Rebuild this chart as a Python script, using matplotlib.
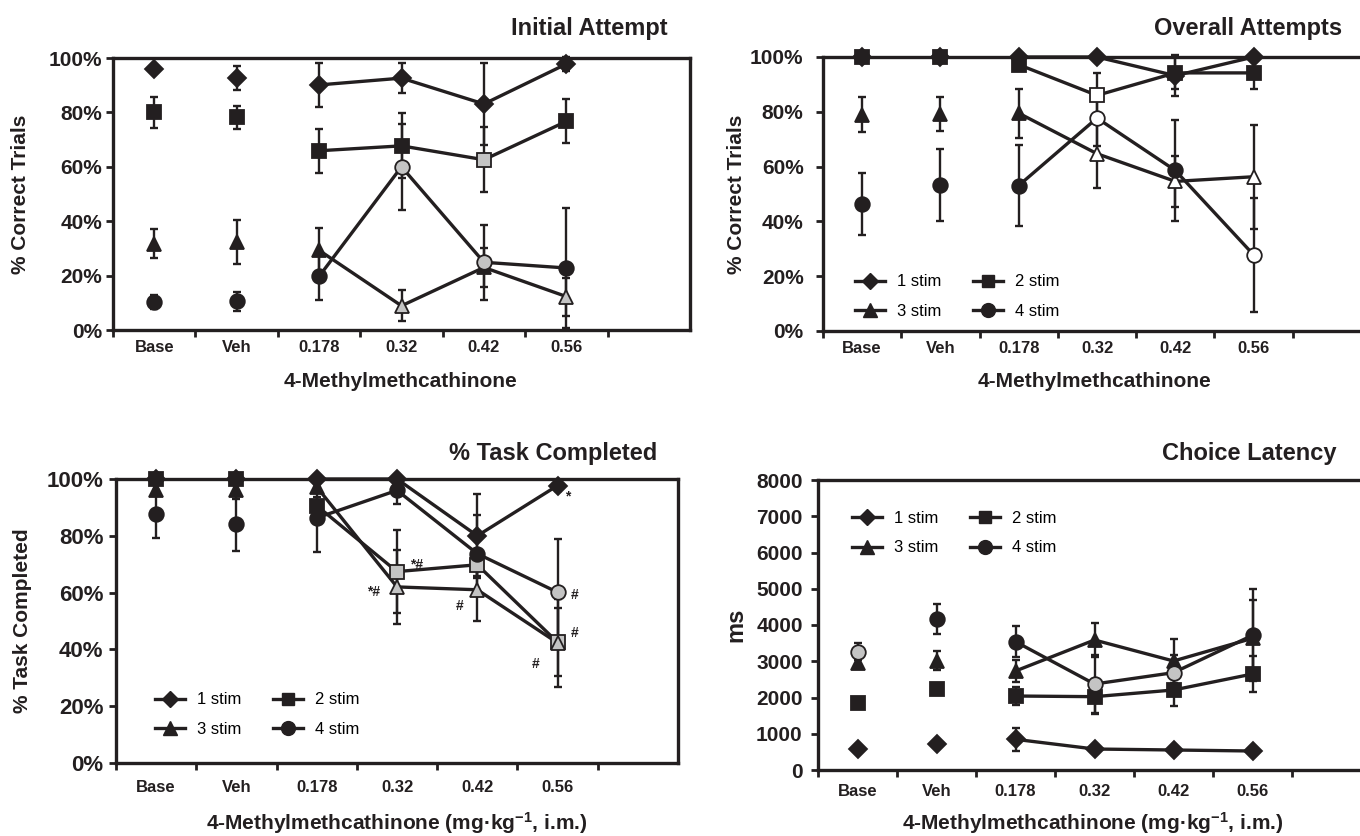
import matplotlib
matplotlib.use("Agg")
import matplotlib.pyplot as plt
from matplotlib.lines import Line2D
import numpy as np

plt.rcParams['font.family'] = ['Liberation Sans', 'DejaVu Sans']
plt.rcParams['mathtext.fontset'] = 'custom'
plt.rcParams['mathtext.rm'] = 'Liberation Sans:bold'
plt.rcParams['mathtext.bf'] = 'Liberation Sans:bold'
plt.rcParams['mathtext.default'] = 'bf'

# ---------------- data ----------------
categories = ["Base", "Veh", "0.178", "0.32", "0.42", "0.56"]
series_labels = ["1 stim", "2 stim", "3 stim", "4 stim"]

# Initial Attempt (% correct)
init_1 = [96.1, 92.7, 90.1, 92.6, 83.1, 97.8]
init_1_err = [1.5, 4.5, 8.1, 5.6, 15.2, 2.5]
init_2 = [80.0, 78.2, 65.9, 67.7, 62.6, 76.7]
init_2_err = [5.7, 4.2, 8.0, 12.0, 12.0, 8.1]
init_3 = [31.8, 32.3, 29.3, 8.9, 23.0, 12.3]
init_3_err = [5.4, 8.1, 8.3, 5.7, 7.1, 7.0]
init_4 = [10.2, 10.5, 19.7, 60.0, 24.9, 22.8]
init_4_err = [2.5, 3.4, 8.6, 15.7, 13.8, 22.0]

# Overall Attempts (% correct)
over_1 = [100, 100, 100, 100, 93.2, 100]
over_1_err = [0, 0, 0, 0, 7.5, 0]
over_2 = [100, 100, 97.2, 86.0, 94.2, 94.2]
over_2_err = [0, 0, 0, 8.2, 6.0, 6.0]
over_3 = [79.0, 79.3, 79.5, 64.7, 54.6, 56.3]
over_3_err = [6.4, 6.2, 9.0, 12.6, 9.2, 19.0]
over_4 = [46.3, 53.3, 53.1, 77.7, 58.6, 27.8]
over_4_err = [11.4, 13.2, 14.7, 10.0, 18.5, 20.8]

# % Task Completed
task_1 = [100, 100, 100, 100, 80.0, 97.7]
task_1_err = [0, 0, 0, 0, 14.7, 2.0]
task_2 = [100, 100, 90.6, 67.4, 69.8, 42.5]
task_2_err = [0, 0, 3.0, 14.5, 4.0, 12.0]
task_3 = [96.2, 96.0, 97.2, 62.0, 61.0, 42.3]
task_3_err = [2.0, 3.0, 2.0, 13.0, 11.0, 15.5]
task_4 = [87.7, 84.3, 86.3, 96.0, 73.7, 60.1]
task_4_err = [8.5, 9.8, 12.0, 4.8, 13.5, 18.8]
task_notes = [(0, 5, "*"), (1, 3, "*#"), (2, 3, "*#"), (2, 4, "#"),
              (3, 5, "#"), (1, 5, "#"), (2, 5, "#")]

# Choice Latency (ms)
lat_1 = [579, 717, 846, 579, 552, 524]
lat_1_err = [0, 0, 310, 0, 0, 0]
lat_2 = [1839, 2225, 2041, 2023, 2207, 2648]
lat_2_err = [0, 100, 250, 480, 440, 490]
lat_3 = [2961, 3016, 2731, 3586, 3007, 3632]
lat_3_err = [150, 260, 300, 480, 600, 1060]
lat_4 = [3264, 4166, 3540, 2372, 2685, 3715]
lat_4_err = [230, 410, 430, 800, 500, 1270]

# ---------------- style ----------------
BLACK = '#231f20'
FILLS = {'k': BLACK, 'g': '#c4c4c4', 'w': 'white'}
markers = ['D', 's', '^', 'o']
msizes = [9, 9.5, 10.5, 10.5]

init_fill = [list('kkkkkk'), list('kkkkgk'), list('kkkgkg'), list('kkkggk')]
over_fill = [list('kkkkkk'), list('kkkwkk'), list('kkkwww'), list('kkkwkw')]
task_fill = [list('kkkkkk'), list('kkkggg'), list('kkkggg'), list('kkkkkg')]
lat_fill = [list('kkkkkk'), list('kkkkkk'), list('kkkkkk'), list('gkkggk')]

W, H = 1360, 836
fig = plt.figure(figsize=(W / 100, H / 100), dpi=100)


def px_axes(left, top, right, bottom):
    return fig.add_axes([left / W, 1 - bottom / H, (right - left) / W, (bottom - top) / H])


def draw(ax, means, errs, fills):
    x = np.arange(len(categories))
    for i in range(4):
        m = np.asarray(means[i], float)
        e = np.asarray(errs[i], float)
        k = e > 0
        ax.errorbar(x[k], m[k], yerr=e[k], fmt='none', ecolor=BLACK,
                    elinewidth=1.7, capsize=3, capthick=1.7, zorder=2, clip_on=False)
        ax.plot(x[2:], m[2:], '-', color=BLACK, lw=2.4, zorder=3, clip_on=False)
        for xi, yi, f in zip(x, m, fills[i]):
            ax.plot([xi], [yi], ls='none', marker=markers[i], ms=msizes[i],
                    mfc=FILLS[f], mec=BLACK, mew=1.3, zorder=4, clip_on=False)


def style(ax, yticks, ylabels, ylim, ypad, xpad, ysize):
    ax.set_xlim(-0.5, 6.5)
    ax.set_ylim(*ylim)
    ax.set_xticks(np.arange(-0.5, 6.0, 1.0))
    ax.set_xticklabels([])
    ax.set_xticks(np.arange(len(categories)), minor=True)
    ax.set_xticklabels(categories, minor=True, fontsize=12, fontweight='bold', color=BLACK)
    ax.tick_params(axis='x', which='minor', length=0, pad=xpad)
    ax.tick_params(axis='x', which='major', length=5, width=2, direction='out', color=BLACK)
    ax.set_yticks(yticks)
    ax.set_yticklabels(ylabels, fontsize=ysize, fontweight='bold', color=BLACK)
    ax.tick_params(axis='y', length=5, width=2, direction='out', pad=ypad, color=BLACK)
    for s in ax.spines.values():
        s.set_linewidth(2.4)
        s.set_color(BLACK)
        s.set_zorder(5)


def legend(ax, x0, ytop):
    handles = [Line2D([], [], color=BLACK, lw=2.4, marker=markers[i], ms=msizes[i] * 0.95,
                      mfc=BLACK, mec=BLACK) for i in range(4)]
    # row1 = 1 stim, 2 stim ; row2 = 3 stim, 4 stim (column-major fill)
    order = [0, 2, 1, 3]
    ax.legend([handles[i] for i in order], [series_labels[i] for i in order],
              ncol=2, frameon=False, loc='upper left',
              bbox_to_anchor=(x0 / W, 1 - ytop / H), bbox_transform=fig.transFigure,
              borderpad=0, handlelength=1.8, handletextpad=0.7, columnspacing=1.9,
              labelspacing=0.85, prop={'family': 'Liberation Sans', 'size': 12})


pct_ticks = [0, 20, 40, 60, 80, 100]
pct_labels = [f"{v}%" for v in pct_ticks]

# Panel 1: Initial Attempt
ax1 = px_axes(113, 58, 690, 330)
draw(ax1, [init_1, init_2, init_3, init_4], [init_1_err, init_2_err, init_3_err, init_4_err], init_fill)
style(ax1, pct_ticks, pct_labels, (0, 100), 3, 7, 15)

# Panel 2: Overall Attempts
ax2 = px_axes(823, 57, 1371, 331)
draw(ax2, [over_1, over_2, over_3, over_4], [over_1_err, over_2_err, over_3_err, over_4_err], over_fill)
style(ax2, pct_ticks, pct_labels, (0, 100), 9, 7, 15)
legend(ax2, 847, 266)

# Panel 3: % Task Completed
ax3 = px_axes(116, 479, 678, 763)
draw(ax3, [task_1, task_2, task_3, task_4], [task_1_err, task_2_err, task_3_err, task_4_err], task_fill)
style(ax3, pct_ticks, pct_labels, (0, 100), 4, 12, 16)
legend(ax3, 147, 684)
task_means = [task_1, task_2, task_3, task_4]
note_offsets = {(0, 5): (7, -8), (1, 3): (14, 5), (2, 3): (-17, -4), (2, 4): (-13, -12),
                (3, 5): (12, -2), (1, 5): (12, 7), (2, 5): (-16, -15)}
for s_i, c_i, txt in task_notes:
    ax3.annotate(txt, (c_i, task_means[s_i][c_i]), xytext=note_offsets[(s_i, c_i)],
                 textcoords='offset points', ha='center', va='center',
                 fontsize=10, fontweight='bold', color=BLACK, zorder=6)

# Panel 4: Choice Latency
ax4 = px_axes(818, 480, 1371, 770)
draw(ax4, [lat_1, lat_2, lat_3, lat_4], [lat_1_err, lat_2_err, lat_3_err, lat_4_err], lat_fill)
ms_ticks = list(range(0, 8001, 1000))
style(ax4, ms_ticks, [str(v) for v in ms_ticks], (0, 8000), 6, 10, 15)
legend(ax4, 844, 503)

# titles
tkw = dict(fontsize=17, fontweight='bold', color=BLACK, ha='right', va='baseline')
fig.text(668 / W, 1 - 35 / H, "Initial Attempt", **tkw)
fig.text(1342 / W, 1 - 35 / H, "Overall Attempts", **tkw)
fig.text(657 / W, 1 - 460 / H, "% Task Completed", **tkw)
fig.text(1337 / W, 1 - 460 / H, "Choice Latency", **tkw)

# axis labels
lkw = dict(fontsize=15, fontweight='bold', color=BLACK, ha='center', va='center')
fig.text(401 / W, 1 - 381 / H, "4-Methylmethcathinone", **lkw)
fig.text(1095 / W, 1 - 381 / H, "4-Methylmethcathinone", **lkw)
xl = "4-Methylmethcathinone (mg·kg$^{\u22121}$, i.m.)"
fig.text(397 / W, 1 - 823 / H, xl, **lkw)
fig.text(1093 / W, 1 - 823 / H, xl, **lkw)
fig.text(21 / W, 1 - 194 / H, "% Correct Trials", rotation=90, **lkw)
fig.text(736 / W, 1 - 194 / H, "% Correct Trials", rotation=90, **lkw)
fig.text(22 / W, 1 - 621 / H, "% Task Completed", rotation=90, **lkw)
fig.text(736 / W, 1 - 625 / H, "ms", rotation=90, **dict(lkw, fontsize=17))

fig.savefig("out.png", dpi=100)
